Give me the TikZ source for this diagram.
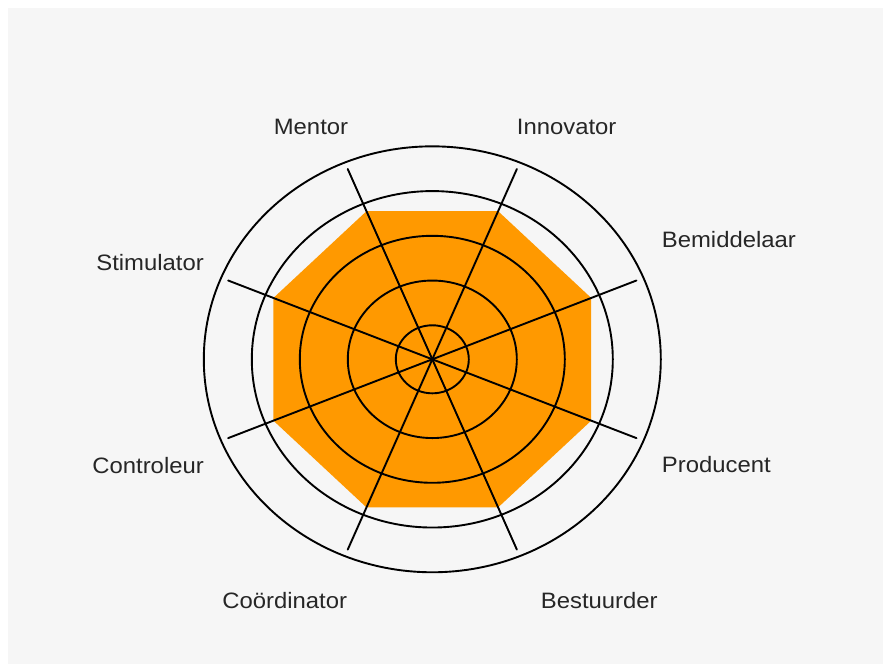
\documentclass[tikz,border=0pt]{standalone}
\usepackage{fontspec}
\setmainfont{Liberation Sans}[FakeStretch=1.07]
\usepackage{tikz}
\definecolor{oranje}{RGB}{255,153,0}
\definecolor{achter}{RGB}{246,246,246}
\tikzstyle{ring} = [draw=black, line width=1.9pt]
\tikzstyle{spoke} = [draw=black, line width=1.9pt]
\tikzset{
  rol/.style ={inner sep=0pt, text=black!85, font=\fontsize{22.3}{26}\selectfont}
}

\begin{document}
\begin{tikzpicture}[line cap=round,line join=round,x=1pt,y=-1pt]
\useasboundingbox (0,0) rectangle (883,664);
\fill[white] (0,0) rectangle (883,664);
\fill[achter] (8,8) rectangle (883,664);
\begin{scope}[shift={(432.3,359.3)},yscale=0.932]
\coordinate (c) at (0,0);
% scores
\fill[oranje] (22.5:172) \foreach \a in {67.5,112.5,...,337.5} {-- (\a:172)} -- cycle;
\foreach \r in {36.5,84.5,...,228.5} \draw[ring] (c) circle (\r);
\coordinate (bem) at (22.5:221);
\coordinate (inn) at (67.5:221);
\coordinate (men) at (112.5:221);
\coordinate (sti) at (157.5:221);
\coordinate (con) at (202.5:221);
\coordinate (coo) at (247.5:221);
\coordinate (bes) at (292.5:221);
\coordinate (pro) at (337.5:221);
\end{scope}
\draw[spoke] (bem) -- (con);
\draw[spoke] (inn) -- (coo);
\draw[spoke] (men) -- (bes);
\draw[spoke] (sti) -- (pro);
% rollen
\node[rol,anchor=base east] (mentor) at (348.3,134.3) {Mentor};
\node[rol,anchor=base west] (innovator) at (516.7,134.3) {Innovator};
\node[rol,anchor=base west] (bemiddelaar) at (661.7,247) {Bemiddelaar};
\node[rol,anchor=base west] (producent) at (661.7,472) {Producent};
\node[rol,anchor=base west] (bestuurder) at (540.7,608.3) {Bestuurder};
\node[rol,anchor=base east] (coordinator) at (347.3,608.3) {Coördinator};
\node[rol,anchor=base east] (controleur) at (204,473) {Controleur};
\node[rol,anchor=base east] (stimulator) at (204,270) {Stimulator};
\end{tikzpicture}
\end{document}
